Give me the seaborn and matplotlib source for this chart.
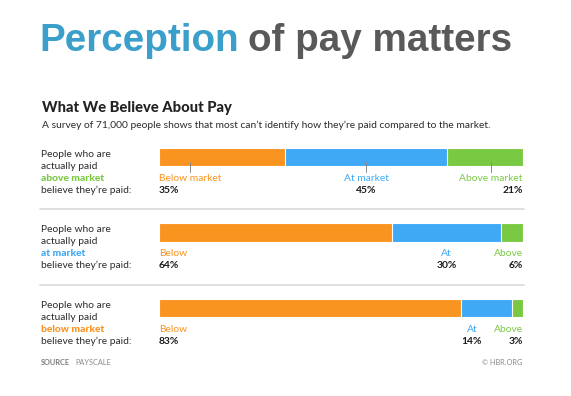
#!/usr/bin/env python3
import numpy as np
import pandas as pd
import seaborn as sns
import matplotlib.pyplot as plt

# data
groups = ['above market', 'at market', 'below market']
below = [35, 64, 83]
at = [45, 30, 14]
above = [21, 6, 3]
seg_names = [['Below market', 'At market', 'Above market'],
             ['Below', 'At', 'Above'],
             ['Below', 'At', 'Above']]

ORANGE = '#FA9420'
BLUE = '#3FA9F5'
GREEN = '#7AC943'
group_colors = [GREEN, BLUE, ORANGE]

df = pd.DataFrame({'group': groups, 'below': below, 'at': at, 'above': above})
df['total'] = df['below'] + df['at'] + df['above']
# bars fill the whole width, so scale each row to its own total
df['cum_below'] = df['below'] / df['total'] * 100
df['cum_at'] = (df['below'] + df['at']) / df['total'] * 100
df['cum_all'] = 100.0

sns.set_style('white')
plt.rcParams['font.family'] = ['Lato', 'DejaVu Sans']

W, H = 571, 396
fig = plt.figure(figsize=(W / 100, H / 100), dpi=100)

# bar area: x 159..522.7 px, row centres 157, 232.5, 308 px
X0, X1 = 159, 522.7
ROW0, ROWSTEP = 157, 75.5
ax = fig.add_axes([X0 / W, 0, (X1 - X0) / W, 1])


def px2x(px):
    return (px - X0) / (X1 - X0) * 100


def px2y(py):
    return (py - ROW0) / ROWSTEP


bar_w = 18.5 / ROWSTEP
for col, c in [('cum_all', GREEN), ('cum_at', BLUE), ('cum_below', ORANGE)]:
    sns.barplot(data=df, x=col, y='group', order=groups, orient='h', color=c, saturation=1,
                width=bar_w, edgecolor='white', linewidth=0.8, ax=ax)

ax.set_xlim(0, 100)
ax.set_ylim(px2y(H), px2y(0))
ax.axis('off')

renderer = fig.canvas.get_renderer()
lab_fs = 7.4
line = 12 / ROWSTEP

for i, row in df.iterrows():
    # row description on the left
    xl = px2x(41)
    ax.text(xl, i, 'People who are', fontsize=lab_fs, color='#2b2b2b', va='baseline', clip_on=False)
    ax.text(xl, i + line, 'actually paid', fontsize=lab_fs, color='#2b2b2b', va='baseline', clip_on=False)
    ax.text(xl, i + 2 * line, row['group'], fontsize=lab_fs, color=group_colors[i],
            fontweight='black', va='baseline', clip_on=False)
    ax.text(xl, i + 3 * line, 'believe they\u2019re paid:', fontsize=lab_fs, color='#2b2b2b',
            va='baseline', clip_on=False)

    # segment labels under the bar
    at_mid = (row['cum_below'] + row['cum_at']) / 2
    at_x = min(at_mid, 86)
    spots = [(0, 'left', ORANGE, row['below']),
             (at_x, 'center', BLUE, row['at']),
             (100, 'right', GREEN, row['above'])]
    for (x, ha, c, v), name in zip(spots, seg_names[i]):
        t = ax.text(x, i + 2 * line, name, fontsize=lab_fs, color=c, ha=ha, va='baseline')
        ax.text(x, i + 3 * line, f'{v}%', fontsize=lab_fs, color='#1a1a1a', fontweight='bold',
                ha=ha, va='baseline')
        if i == 0:
            bb = t.get_window_extent(renderer)
            xc = ax.transData.inverted().transform(((bb.x0 + bb.x1) / 2, 0))[0]
            ax.plot([xc, xc], [i + px2y(ROW0 + 5), i + px2y(ROW0 + 15)], color='#8a8a8a', lw=0.7)

    # separator
    if i < len(df) - 1:
        ax.plot([px2x(40), 100.3], [i + px2y(ROW0 + 52.5)] * 2, color='#dcdcdc', lw=1.3,
                clip_on=False)

# footer
ys = 2 + px2y(ROW0 + 57)
src = ax.text(px2x(41), ys, 'SOURCE', fontsize=5.3, color='#7a7a7a', fontweight='bold',
              va='baseline', clip_on=False)
bb = src.get_window_extent(renderer)
ax.text(bb.x1 + 5, H - 365, 'PAYSCALE', fontsize=5.3, color='#8a8a8a', va='baseline',
        transform=None)
ax.text(100, ys, '\u00a9 HBR.ORG', fontsize=5.3, color='#8a8a8a', ha='right', va='baseline')

# headings
fig.text(42 / W, 1 - 112 / H, 'What We Believe About Pay', fontsize=10.6, fontweight='black',
         color='#222222', va='baseline')
fig.text(42 / W, 1 - 128 / H,
         'A survey of 71,000 people shows that most can\u2019t identify how they\u2019re paid compared to the market.',
         fontsize=7.4, color='#2b2b2b', va='baseline')

tfs = 27.8
t1 = fig.text(39 / W, 1 - 51 / H, 'Perception', fontsize=tfs, fontweight='bold',
              family='Liberation Sans', color='#3A9FCB', va='baseline')
bb = t1.get_window_extent(renderer)
fig.text(bb.x1 + 0.25 * tfs * 100 / 72, H - 51, 'of pay matters', fontsize=tfs, fontweight='bold',
         family='Liberation Sans', color='#595959', va='baseline', transform=None)

fig.savefig('out.png', dpi=100)
